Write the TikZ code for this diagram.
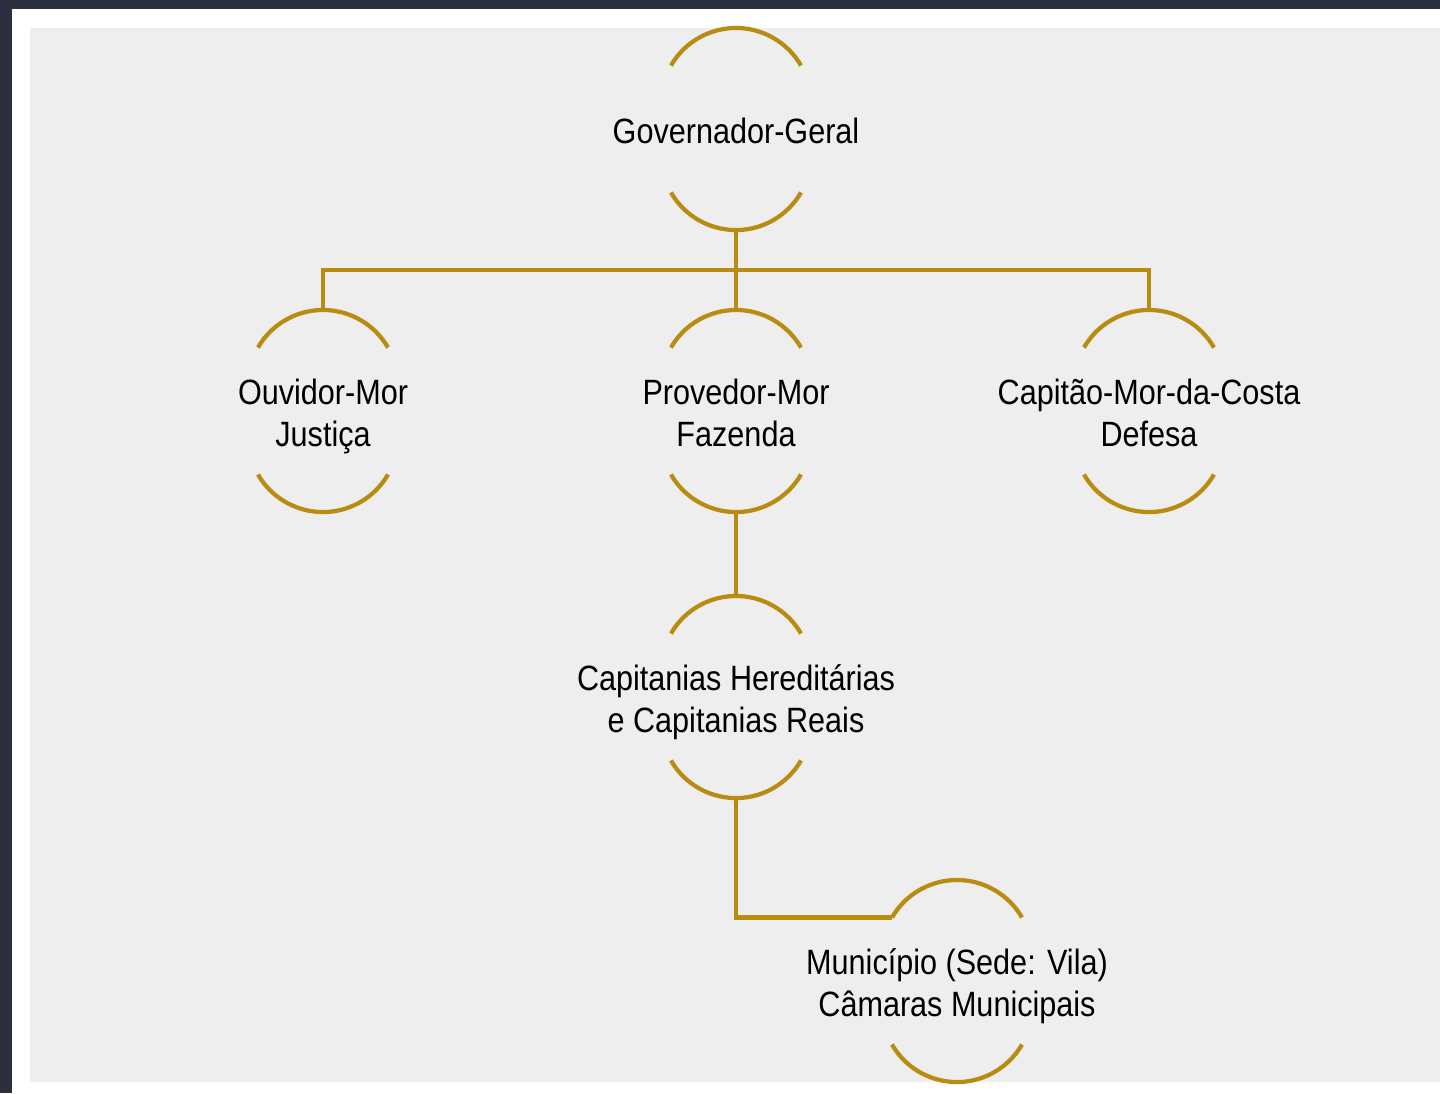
\documentclass[tikz,border=0pt]{standalone}
\usepackage{fontspec}
\setmainfont{Liberation Sans}[FakeStretch=0.87]
\usetikzlibrary{calc}

\definecolor{gold}{RGB}{184,140,16}
\definecolor{frame}{RGB}{43,47,62}
\definecolor{panel}{RGB}{238,238,238}

\newcommand\orgnode[4]{%
  \coordinate (#1-c) at (#2,#3);
  \node [orgtext] (#1) at (#1-c) {#4};
  \draw [goldline] ($(#1-c)+(-65,-63.5)$) arc (150:30:0.75cm);
  \draw [goldline] ($(#1-c)+(-65,63.5)$) arc (210:330:0.75cm);
  \coordinate (#1-top) at ($(#1-c)+(0,-101)$);
  \coordinate (#1-bot) at ($(#1-c)+(0,101)$);
  \coordinate (#1-left) at ($(#1-c)+(-65,-63.5)$);
}

\begin{document}
\begin{tikzpicture}[x=0.01cm,y=-0.01cm,
  goldline/.style={draw=gold,line width=1.2pt},
  orgtext/.style={align=center,inner sep=0pt,text depth=0pt,yshift=-0.5pt,
    font=\fontsize{10}{12}\selectfont}]
  \useasboundingbox (0,0) rectangle (1440,1093);
  \fill [frame] (0,0) rectangle (1440,1093);
  \fill [white] (12,9) rectangle (1440,1093);
  \fill [panel] (30,28) rectangle (1440,1082);

  \orgnode{gov}{736}{129}{Governador-Geral}
  \orgnode{ouv}{323}{411}{Ouvidor-Mor\\Justiça}
  \orgnode{prov}{736}{411}{Provedor-Mor\\Fazenda}
  \orgnode{capm}{1149}{411}{Capitão-Mor-da-Costa\\Defesa}
  \orgnode{capr}{736}{697}{Capitanias Hereditárias\\e Capitanias Reais}
  \orgnode{mun}{957}{981}{Município (Sede: Vila)\\Câmaras Municipais}

  \draw [goldline] (gov-bot) -- (prov-top);
  \draw [goldline] (ouv-top) -- ++(0,-40) -| (capm-top);
  \draw [goldline] (prov-bot) -- (capr-top);
  \draw [goldline] (capr-bot) |- (mun-left);
\end{tikzpicture}
\end{document}
